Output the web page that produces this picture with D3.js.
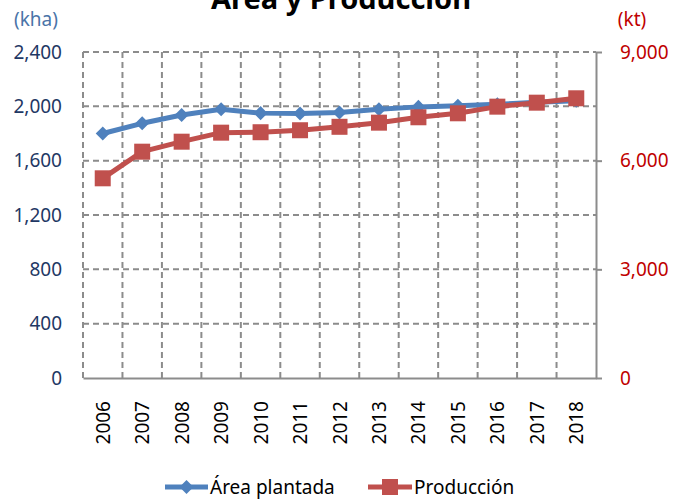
<!DOCTYPE html>
<html>
<head>
<meta charset="utf-8">
<script src="https://cdn.jsdelivr.net/npm/d3@7"></script>
<style>
  html, body { margin: 0; padding: 0; background: #fff; }
  svg { display: block; }
</style>
</head>
<body>
<svg id="chart" width="675" height="500"></svg>
<script>
const years = ["2006","2007","2008","2009","2010","2011","2012","2013","2014","2015","2016","2017","2018"];
const areaPlantada = [1800, 1875, 1936, 1978, 1950, 1947, 1955, 1978, 1996, 2005, 2015, 2030, 2042];
const produccion = [5513, 6248, 6524, 6773, 6785, 6840, 6935, 7049, 7198, 7308, 7491, 7601, 7722];
const leftTicks = [0, 400, 800, 1200, 1600, 2000, 2400];
const rightTicks = [0, 3000, 6000, 9000];
const seriesNames = ["Área plantada", "Producción"];
const titleText = "Área y Producción";

const W = 675, H = 500;
const m = { left: 83, right: 596, top: 52, bottom: 378 };
const FONT = "'Noto Sans', 'Open Sans', sans-serif";
const BLUE = "#4F81BD", RED = "#C0504D";
const NAVY = "#1F3864", DARKRED = "#C00000";
const GRID = "#8C8C8C";

const svg = d3.select("#chart");

const x = d3.scaleBand().domain(years).range([m.left, m.right]).padding(0);
const yL = d3.scaleLinear().domain([0, 2400]).range([m.bottom, m.top]);
const yR = d3.scaleLinear().domain([0, 9000]).range([m.bottom, m.top]);

// Title (partially cut off at top, as in the reference)
svg.append("text")
  .attr("x", 341).attr("y", 9)
  .attr("text-anchor", "middle")
  .attr("font-family", FONT).attr("font-weight", "bold")
  .attr("font-size", 29).attr("fill", "#000")
  .text(titleText);

// Horizontal gridlines
const g = svg.append("g");
g.selectAll("line.h").data(leftTicks.filter(d => d > 0)).join("line")
  .attr("x1", m.left).attr("x2", m.right)
  .attr("y1", d => yL(d)).attr("y2", d => yL(d))
  .attr("stroke", GRID).attr("stroke-width", 2).attr("stroke-dasharray", "6,4");

// Vertical gridlines at category boundaries (including left axis)
const bounds = years.map(d => x(d));
g.selectAll("line.v").data(bounds).join("line")
  .attr("x1", d => d).attr("x2", d => d)
  .attr("y1", m.top).attr("y2", m.bottom)
  .attr("stroke", GRID).attr("stroke-width", 2).attr("stroke-dasharray", "6,4");

// Left axis labels
const leftAxis = d3.axisLeft(yL).tickValues(leftTicks).tickFormat(d3.format(",")).tickSize(0).tickPadding(21);
const la = svg.append("g").attr("transform", `translate(${m.left},0)`).call(leftAxis);
la.select(".domain").remove();
la.selectAll("text").attr("font-family", FONT).attr("font-size", 19).attr("fill", NAVY);

// Right axis (solid line with outward ticks)
const rightAxis = d3.axisRight(yR).tickValues(rightTicks).tickFormat(d3.format(",")).tickSizeInner(6).tickSizeOuter(0).tickPadding(18);
const ra = svg.append("g").attr("transform", `translate(${m.right},0)`).call(rightAxis);
ra.select(".domain").attr("stroke", GRID).attr("stroke-width", 2);
ra.selectAll(".tick line").attr("stroke", GRID).attr("stroke-width", 2);
ra.selectAll("text").attr("font-family", FONT).attr("font-size", 19).attr("fill", DARKRED);

// Bottom axis
const bottomAxis = d3.axisBottom(x).tickSize(0).tickPadding(0);
const ba = svg.append("g").attr("transform", `translate(0,${m.bottom})`).call(bottomAxis);
ba.select(".domain").attr("stroke", GRID).attr("stroke-width", 2);
ba.selectAll("text")
  .attr("font-family", FONT).attr("font-size", 19).attr("fill", "#000")
  .attr("text-anchor", "end")
  .attr("dy", null).attr("y", 0)
  .attr("transform", "translate(0,23) rotate(-90)")
  .attr("dominant-baseline", "central");

// Units
svg.append("text").attr("x", 36).attr("y", 26).attr("text-anchor", "middle")
  .attr("font-family", FONT).attr("font-size", 19).attr("fill", "#4A74A8").text("(kha)");
svg.append("text").attr("x", 632).attr("y", 26).attr("text-anchor", "middle")
  .attr("font-family", FONT).attr("font-size", 19).attr("fill", DARKRED).text("(kt)");

// Series
const cx = d => x(d) + x.bandwidth() / 2;
const lineL = d3.line().x((d, i) => cx(years[i])).y(d => yL(d));
const lineR = d3.line().x((d, i) => cx(years[i])).y(d => yR(d));

svg.append("path").datum(areaPlantada).attr("d", lineL)
  .attr("fill", "none").attr("stroke", BLUE).attr("stroke-width", 5).attr("stroke-linejoin", "round");
const diamond = d3.symbol().type(d3.symbolDiamond2).size(125);
svg.selectAll("path.dia").data(areaPlantada).join("path")
  .attr("d", diamond)
  .attr("transform", (d, i) => `translate(${cx(years[i])},${yL(d)})`)
  .attr("fill", BLUE);

svg.append("path").datum(produccion).attr("d", lineR)
  .attr("fill", "none").attr("stroke", RED).attr("stroke-width", 5).attr("stroke-linejoin", "round");
svg.selectAll("rect.sq").data(produccion).join("rect")
  .attr("x", (d, i) => cx(years[i]) - 8).attr("y", d => yR(d) - 8)
  .attr("width", 16).attr("height", 16)
  .attr("fill", RED);

// Legend
const leg = svg.append("g");
const ly = 487;
leg.append("line").attr("x1", 165).attr("x2", 208).attr("y1", ly).attr("y2", ly)
  .attr("stroke", BLUE).attr("stroke-width", 5);
leg.append("path").attr("d", diamond).attr("transform", `translate(186.5,${ly})`).attr("fill", BLUE);
leg.append("text").attr("x", 210).attr("y", ly).attr("dominant-baseline", "central")
  .attr("font-family", FONT).attr("font-size", 19).attr("fill", "#000").text(seriesNames[0]);
leg.append("line").attr("x1", 368).attr("x2", 412).attr("y1", ly).attr("y2", ly)
  .attr("stroke", RED).attr("stroke-width", 5);
leg.append("rect").attr("x", 382).attr("y", ly - 8).attr("width", 16).attr("height", 16).attr("fill", RED);
leg.append("text").attr("x", 414).attr("y", ly).attr("dominant-baseline", "central")
  .attr("font-family", FONT).attr("font-size", 19).attr("fill", "#000").text(seriesNames[1]);
</script>
</body>
</html>
